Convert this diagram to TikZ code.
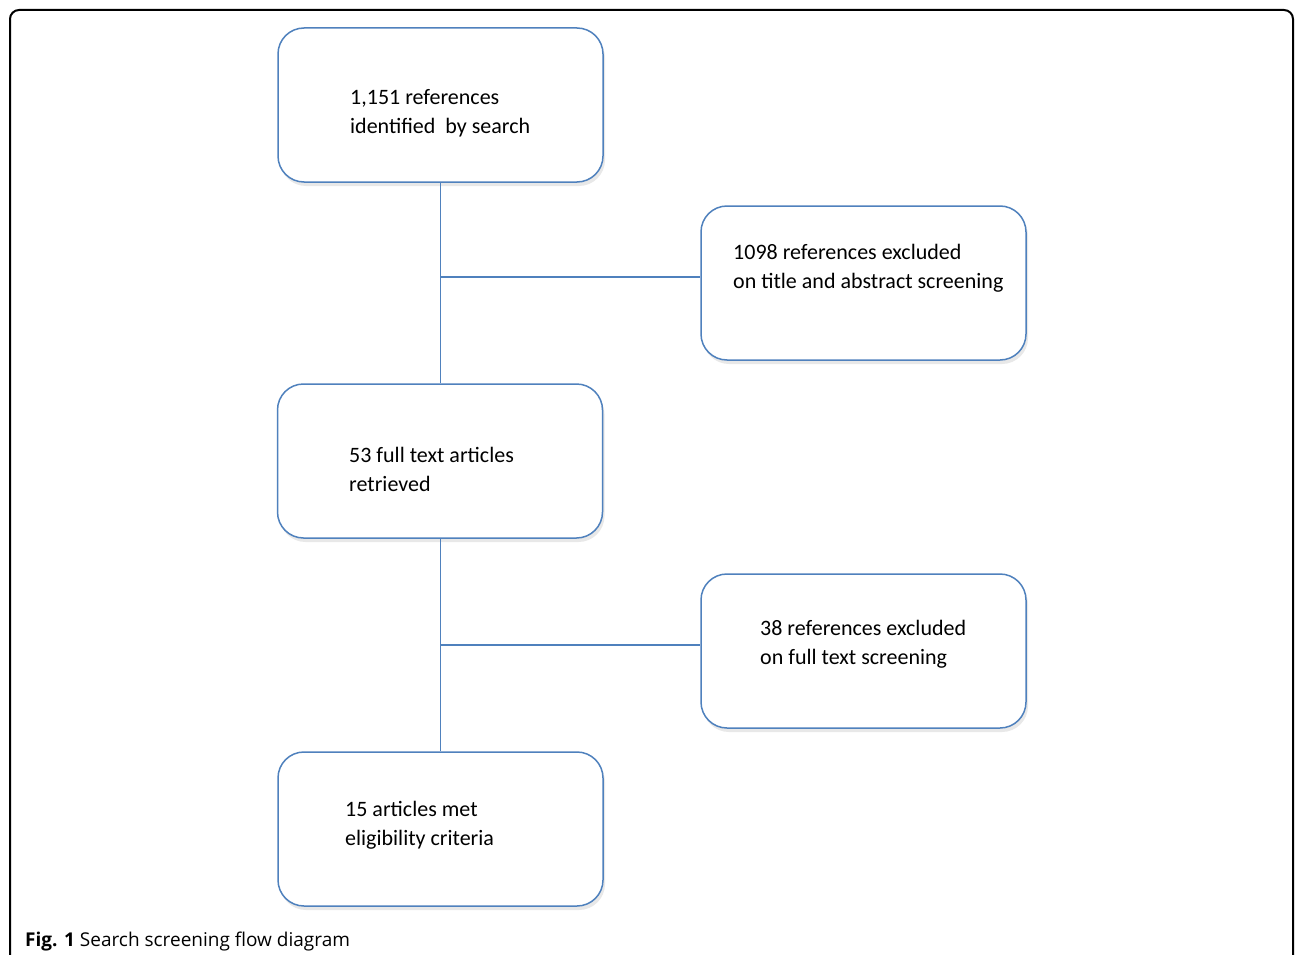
\documentclass[tikz,border=0pt]{standalone}
\usepackage{fontspec}
\setmainfont{Carlito}
\newfontfamily\capfont{Open Sans}
\usetikzlibrary{shadows,calc}
\definecolor{boxblue}{RGB}{79,129,189}
\begin{document}
\begin{tikzpicture}[x=1pt,y=-1pt,
  flowbox/.style={draw=boxblue, line width=1.5pt, rounded corners=26pt, fill=white,
    minimum width=325pt, minimum height=154pt, inner sep=0pt,
    drop shadow={opacity=0.18, shadow xshift=2pt, shadow yshift=-4pt}},
  boxtext/.style={anchor=west, align=left, inner sep=0pt, font=\fontsize{22}{29}\selectfont},
  link/.style={draw=boxblue, line width=1.5pt}]
\useasboundingbox (0,0) rectangle (1295,955);
\fill[white] (0,0) rectangle (1295,955);
\draw[line width=2pt, rounded corners=9pt] (10,960) -- (10,10) -- (1293,10) -- (1293,960);

\node[flowbox] (b1) at (440.5,105) {};
\node[flowbox] (b2) at (863.5,283) {};
\node[flowbox] (b3) at (440,461) {};
\node[flowbox] (b4) at (863.5,651) {};
\node[flowbox] (b5) at (440.5,829) {};

\coordinate (e1) at ($(b2.west)+(0,-6)$);
\coordinate (e2) at ($(b4.west)+(0,-6)$);
\coordinate (j1) at (b1.south |- e1);
\coordinate (j2) at (b1.south |- e2);
\draw[link] (b1.south) -- (b1.south |- b3.north);
\draw[link] (b1.south |- b3.south) -- (b1.south |- b5.north);
\draw[link] (j1) -- (e1);
\draw[link] (j2) -- (e2);

\node[boxtext] (t1) at (350,113) {1,151 references\\identified \ by search};
\node[boxtext] (t2) at (733,268) {1098 references excluded\\on title and abstract screening};
\node[boxtext] (t3) at (349,469) {53 full text articles\\retrieved};
\node[boxtext] (t4) at (760,644) {38 references excluded\\on full text screening};
\node[boxtext] (t5) at (345,825) {15 articles met\\eligibility criteria};

\node[anchor=west, inner sep=0pt, font=\capfont\fontsize{19}{22}\selectfont] (cap) at (25,942)
  {\textbf{Fig. 1} Search screening flow diagram};
\end{tikzpicture}
\end{document}
